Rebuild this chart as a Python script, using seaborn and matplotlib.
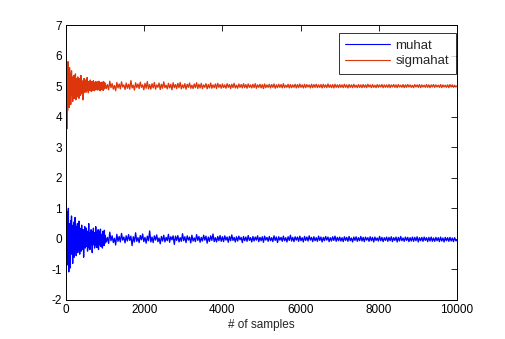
import numpy as np
import pandas as pd
import matplotlib
matplotlib.use("Agg")
import matplotlib.pyplot as plt
import seaborn as sns

# sample positions (early part read more finely)
samples_early = list(range(1, 1000, 10))
samples_late = list(range(1000, 10001, 30))

mu_early = [1.28, 0.4, -0.6, 0.9, -0.85, 0.2, 1.0, -1.08, 0.5, -0.7,
            0.3, -0.95, 0.6, -0.2, 0.75, -0.5, 0.1, -0.8, 0.45, -0.3,
            0.55, -0.6, 0.2, 0.7, -0.35, 0.15, -0.55, 0.4, -0.15, 0.5,
            -0.45, 0.25, -0.3, 0.58, -0.2, -0.5, 0.35, -0.1, 0.3, -0.4,
            0.45, -0.25, 0.15, -0.35, 0.3, -0.6, 0.2, -0.15, 0.4, -0.3,
            0.1, -0.25, 0.35, -0.2, 0.25, -0.4, 0.15, -0.1, 0.5, -0.3,
            0.2, -0.35, 0.12, -0.2, 0.3, -0.15, 0.25, -0.45, 0.1, -0.2,
            0.35, -0.12, 0.2, -0.3, 0.15, -0.22, 0.4, -0.1, 0.18, -0.28,
            0.22, -0.15, 0.3, -0.35, 0.12, -0.2, 0.25, -0.1, 0.32, -0.25,
            0.15, -0.2, 0.1, -0.3, 0.25, -0.12, 0.2, -0.22, 0.28, -0.15]
mu_late = [0.12, -0.1, 0.05, -0.15, 0.22, -0.06, 0.1, -0.12, 0.02, -0.2, 0.15, -0.08, 0.08, -0.1, 0.18, -0.04, 0.06, -0.13, 0.1, -0.07,
           0.14, -0.05, 0.09, -0.22, 0.07, -0.1, 0.2, -0.08, 0.04, -0.12, 0.11, -0.03, 0.16, -0.09, 0.05, -0.14, 0.09, -0.06, 0.26, -0.1,
           0.06, -0.12, 0.1, -0.04, 0.13, -0.09, 0.03, -0.16, 0.08, -0.07, 0.12, -0.1, 0.05, -0.06, 0.15, -0.11, 0.07, -0.03, 0.1, -0.18,
           0.09, -0.05, 0.11, -0.1, 0.04, -0.08, 0.17, -0.06, 0.07, -0.12, 0.1, -0.04, 0.06, -0.13, 0.12, -0.07, 0.03, -0.09, 0.14, -0.05,
           0.08, -0.11, 0.05, -0.07, 0.12, -0.04, 0.09, -0.14, 0.06, -0.08, 0.1, -0.05, 0.16, -0.09, 0.04, -0.1, 0.08, -0.06, 0.11, -0.08,
           0.07, -0.09, 0.1, -0.04, 0.06, -0.11, 0.08, -0.06, 0.13, -0.05, 0.05, -0.1, 0.07, -0.07, 0.09, -0.03, 0.05, -0.12, 0.08, -0.06,
           0.06, -0.08, 0.11, -0.05, 0.04, -0.1, 0.08, -0.07, 0.06, -0.04, 0.1, -0.09, 0.05, -0.06, 0.07, -0.11, 0.09, -0.04, 0.05, -0.08,
           0.08, -0.06, 0.04, -0.09, 0.1, -0.05, 0.06, -0.12, 0.07, -0.04, 0.05, -0.08, 0.09, -0.06, 0.04, -0.1, 0.07, -0.05, 0.12, -0.07,
           0.05, -0.09, 0.07, -0.04, 0.06, -0.08, 0.09, -0.06, 0.04, -0.1, 0.08, -0.05, 0.06, -0.07, 0.1, -0.04, 0.05, -0.09, 0.07, -0.06,
           0.04, -0.08, 0.09, -0.05, 0.06, -0.1, 0.05, -0.06, 0.08, -0.04, 0.06, -0.09, 0.04, -0.07, 0.07, -0.05, 0.09, -0.08, 0.05, -0.06,
           0.06, -0.07, 0.04, -0.09, 0.07, -0.05, 0.05, -0.08, 0.08, -0.06, 0.03, -0.1, 0.06, -0.05, 0.07, -0.08, 0.04, -0.06, 0.08, -0.07,
           0.05, -0.09, 0.06, -0.04, 0.04, -0.08, 0.07, -0.06, 0.05, -0.1, 0.06, -0.05, 0.03, -0.07, 0.08, -0.06, 0.05, -0.09, 0.04, -0.05,
           0.06, -0.08, 0.05, -0.06, 0.07, -0.09, 0.04, -0.05, 0.06, -0.1, 0.05, -0.07, 0.08, -0.06, 0.03, -0.08, 0.06, -0.05, 0.05, -0.09,
           0.04, -0.07, 0.06, -0.08, 0.05, -0.06, 0.07, -0.1, 0.04, -0.06, 0.05, -0.08, 0.06, -0.05, 0.04, -0.09, 0.05, -0.07, 0.06, -0.08,
           0.03, -0.08, 0.05, -0.06, 0.04, -0.09, 0.06, -0.07, 0.03, -0.1, 0.05, -0.06, 0.04, -0.08, 0.05, -0.07, 0.03, -0.09, 0.04, -0.06,
           -0.05]

sigma_early = [6.0, 5.2, 3.6, 5.5, 4.2, 5.8, 4.5, 5.3, 4.3, 5.6,
               4.6, 5.4, 4.4, 5.1, 5.5, 4.7, 5.3, 4.5, 5.2, 4.8,
               5.35, 4.6, 5.1, 4.9, 5.4, 4.55, 5.25, 4.75, 5.15, 4.65,
               5.3, 4.8, 5.1, 4.6, 5.25, 4.85, 5.15, 4.7, 5.35, 4.8,
               5.2, 4.75, 5.05, 4.55, 5.15, 4.85, 5.25, 4.8, 5.1, 4.9,
               5.2, 4.8, 5.1, 4.85, 5.28, 4.9, 5.05, 4.78, 5.15, 4.88,
               5.12, 4.85, 5.2, 4.9, 5.08, 4.82, 5.15, 4.92, 5.1, 4.86,
               5.18, 4.9, 5.06, 4.85, 5.12, 4.93, 5.15, 4.88, 5.08, 4.9,
               5.14, 4.87, 5.1, 4.92, 5.16, 4.89, 5.07, 4.85, 5.12, 4.91,
               5.1, 4.88, 5.13, 4.92, 5.08, 4.86, 5.15, 4.9, 5.1, 4.93]
sigma_late = [5.1, 4.92, 5.05, 4.88, 5.16, 4.95, 5.08, 4.9, 5.02, 4.85, 5.12, 4.94, 5.07, 4.91, 5.14, 4.97, 5.04, 4.89, 5.1, 4.93,
              5.06, 4.9, 5.18, 4.94, 5.03, 4.87, 5.11, 4.95, 5.07, 4.92, 5.13, 4.96, 5.04, 4.88, 5.09, 4.93, 5.15, 4.91, 5.05, 4.9,
              5.08, 4.94, 5.12, 4.9, 5.04, 4.96, 5.1, 4.89, 5.06, 4.93, 5.14, 4.95, 5.03, 4.91, 5.09, 4.94, 5.06, 4.88, 5.11, 4.95,
              5.05, 4.92, 5.09, 4.95, 5.12, 4.91, 5.04, 4.94, 5.08, 4.9, 5.06, 4.96, 5.1, 4.93, 5.03, 4.92, 5.07, 4.95, 5.11, 4.92,
              5.06, 4.94, 5.09, 4.92, 5.04, 4.96, 5.08, 4.91, 5.05, 4.94, 5.1, 4.93, 5.04, 4.95, 5.07, 4.92, 5.09, 4.96, 5.05, 4.93,
              5.07, 4.95, 5.04, 4.93, 5.08, 4.96, 5.05, 4.92, 5.06, 4.95, 5.09, 4.94, 5.03, 4.93, 5.07, 4.96, 5.05, 4.94, 5.08, 4.95,
              5.05, 4.93, 5.07, 4.96, 5.04, 4.94, 5.06, 4.95, 5.08, 4.93, 5.04, 4.96, 5.06, 4.94, 5.05, 4.92, 5.07, 4.95, 5.04, 4.96,
              5.06, 4.94, 5.05, 4.96, 5.07, 4.93, 5.04, 4.95, 5.06, 4.96, 5.05, 4.94, 5.08, 4.95, 5.03, 4.96, 5.06, 4.94, 5.05, 4.95,
              5.04, 4.96, 5.06, 4.94, 5.05, 4.95, 5.07, 4.96, 5.04, 4.94, 5.06, 4.95, 5.05, 4.97, 5.04, 4.94, 5.06, 4.95, 5.05, 4.96,
              5.06, 4.95, 5.04, 4.96, 5.05, 4.94, 5.06, 4.96, 5.04, 4.95, 5.07, 4.96, 5.04, 4.95, 5.05, 4.94, 5.06, 4.96, 5.04, 4.95,
              5.05, 4.96, 5.04, 4.95, 5.06, 4.96, 5.04, 4.94, 5.05, 4.96, 5.04, 4.95, 5.06, 4.96, 5.03, 4.95, 5.05, 4.96, 5.04, 4.95,
              5.05, 4.96, 5.04, 4.95, 5.06, 4.97, 5.04, 4.95, 5.05, 4.96, 5.03, 4.95, 5.05, 4.96, 5.04, 4.97, 5.05, 4.95, 5.04, 4.96,
              5.04, 4.96, 5.05, 4.95, 5.04, 4.97, 5.05, 4.96, 5.04, 4.95, 5.05, 4.97, 5.03, 4.96, 5.05, 4.95, 5.04, 4.96, 5.05, 4.97,
              5.04, 4.96, 5.03, 4.95, 5.05, 4.97, 5.04, 4.96, 5.05, 4.95, 5.04, 4.97, 5.03, 4.96, 5.05, 4.96, 5.04, 4.95, 5.04, 4.97,
              5.05, 4.96, 5.04, 4.97, 5.03, 4.96, 5.05, 4.95, 5.04, 4.97, 5.03, 4.96, 5.04, 4.95, 5.05, 4.97, 5.04, 4.96, 5.03, 4.97,
              5.01]

series_names = ["muhat", "sigmahat"]
x_ticks = [0, 2000, 4000, 6000, 8000, 10000]
y_ticks = [-2, -1, 0, 1, 2, 3, 4, 5, 6, 7]

samples = samples_early + samples_late
df = pd.DataFrame({
    "n": samples * 2,
    "value": (mu_early + mu_late) + (sigma_early + sigma_late),
    "series": [series_names[0]] * len(samples) + [series_names[1]] * len(samples),
})

sns.set_style("white")
plt.rcParams["font.family"] = ["Liberation Sans", "DejaVu Sans"]
FS = 8.5

fig = plt.figure(figsize=(5.05, 3.39), dpi=100)
ax = fig.add_axes([66 / 505, 1 - 300 / 339, 391 / 505, 275 / 339])

palette = {"muhat": "#0000FF", "sigmahat": "#DE360C"}
sns.lineplot(data=df, x="n", y="value", hue="series", palette=palette,
             estimator=None, sort=False, linewidth=0.95, ax=ax)

ax.set_xlim(0, 10000)
ax.set_ylim(-2, 7)
ax.set_xticks(x_ticks)
ax.set_yticks(y_ticks)
ax.set_xticklabels([str(t) for t in x_ticks], fontsize=FS)
ax.set_yticklabels([str(t) for t in y_ticks], fontsize=FS)
ax.set_xlabel("# of samples", fontsize=FS, labelpad=2)
ax.set_ylabel("")
ax.tick_params(direction="in", length=4.5, width=0.6, top=True, right=True,
               colors="black", pad=3)
for s in ax.spines.values():
    s.set_visible(True)
    s.set_color("black")
    s.set_linewidth(0.7)

handles, labels = ax.get_legend_handles_labels()
leg = ax.legend(handles, labels, loc="upper right",
                bbox_to_anchor=(390 / 391, 267 / 275), borderaxespad=0,
                fontsize=9.5, frameon=True, fancybox=False, handlelength=3.4,
                handletextpad=0.4, borderpad=0.52, labelspacing=0.22)
leg.get_frame().set_edgecolor("black")
leg.get_frame().set_linewidth(0.7)
for l in leg.get_lines():
    l.set_linewidth(0.8)

fig.savefig("out.png", dpi=100, facecolor="white")
